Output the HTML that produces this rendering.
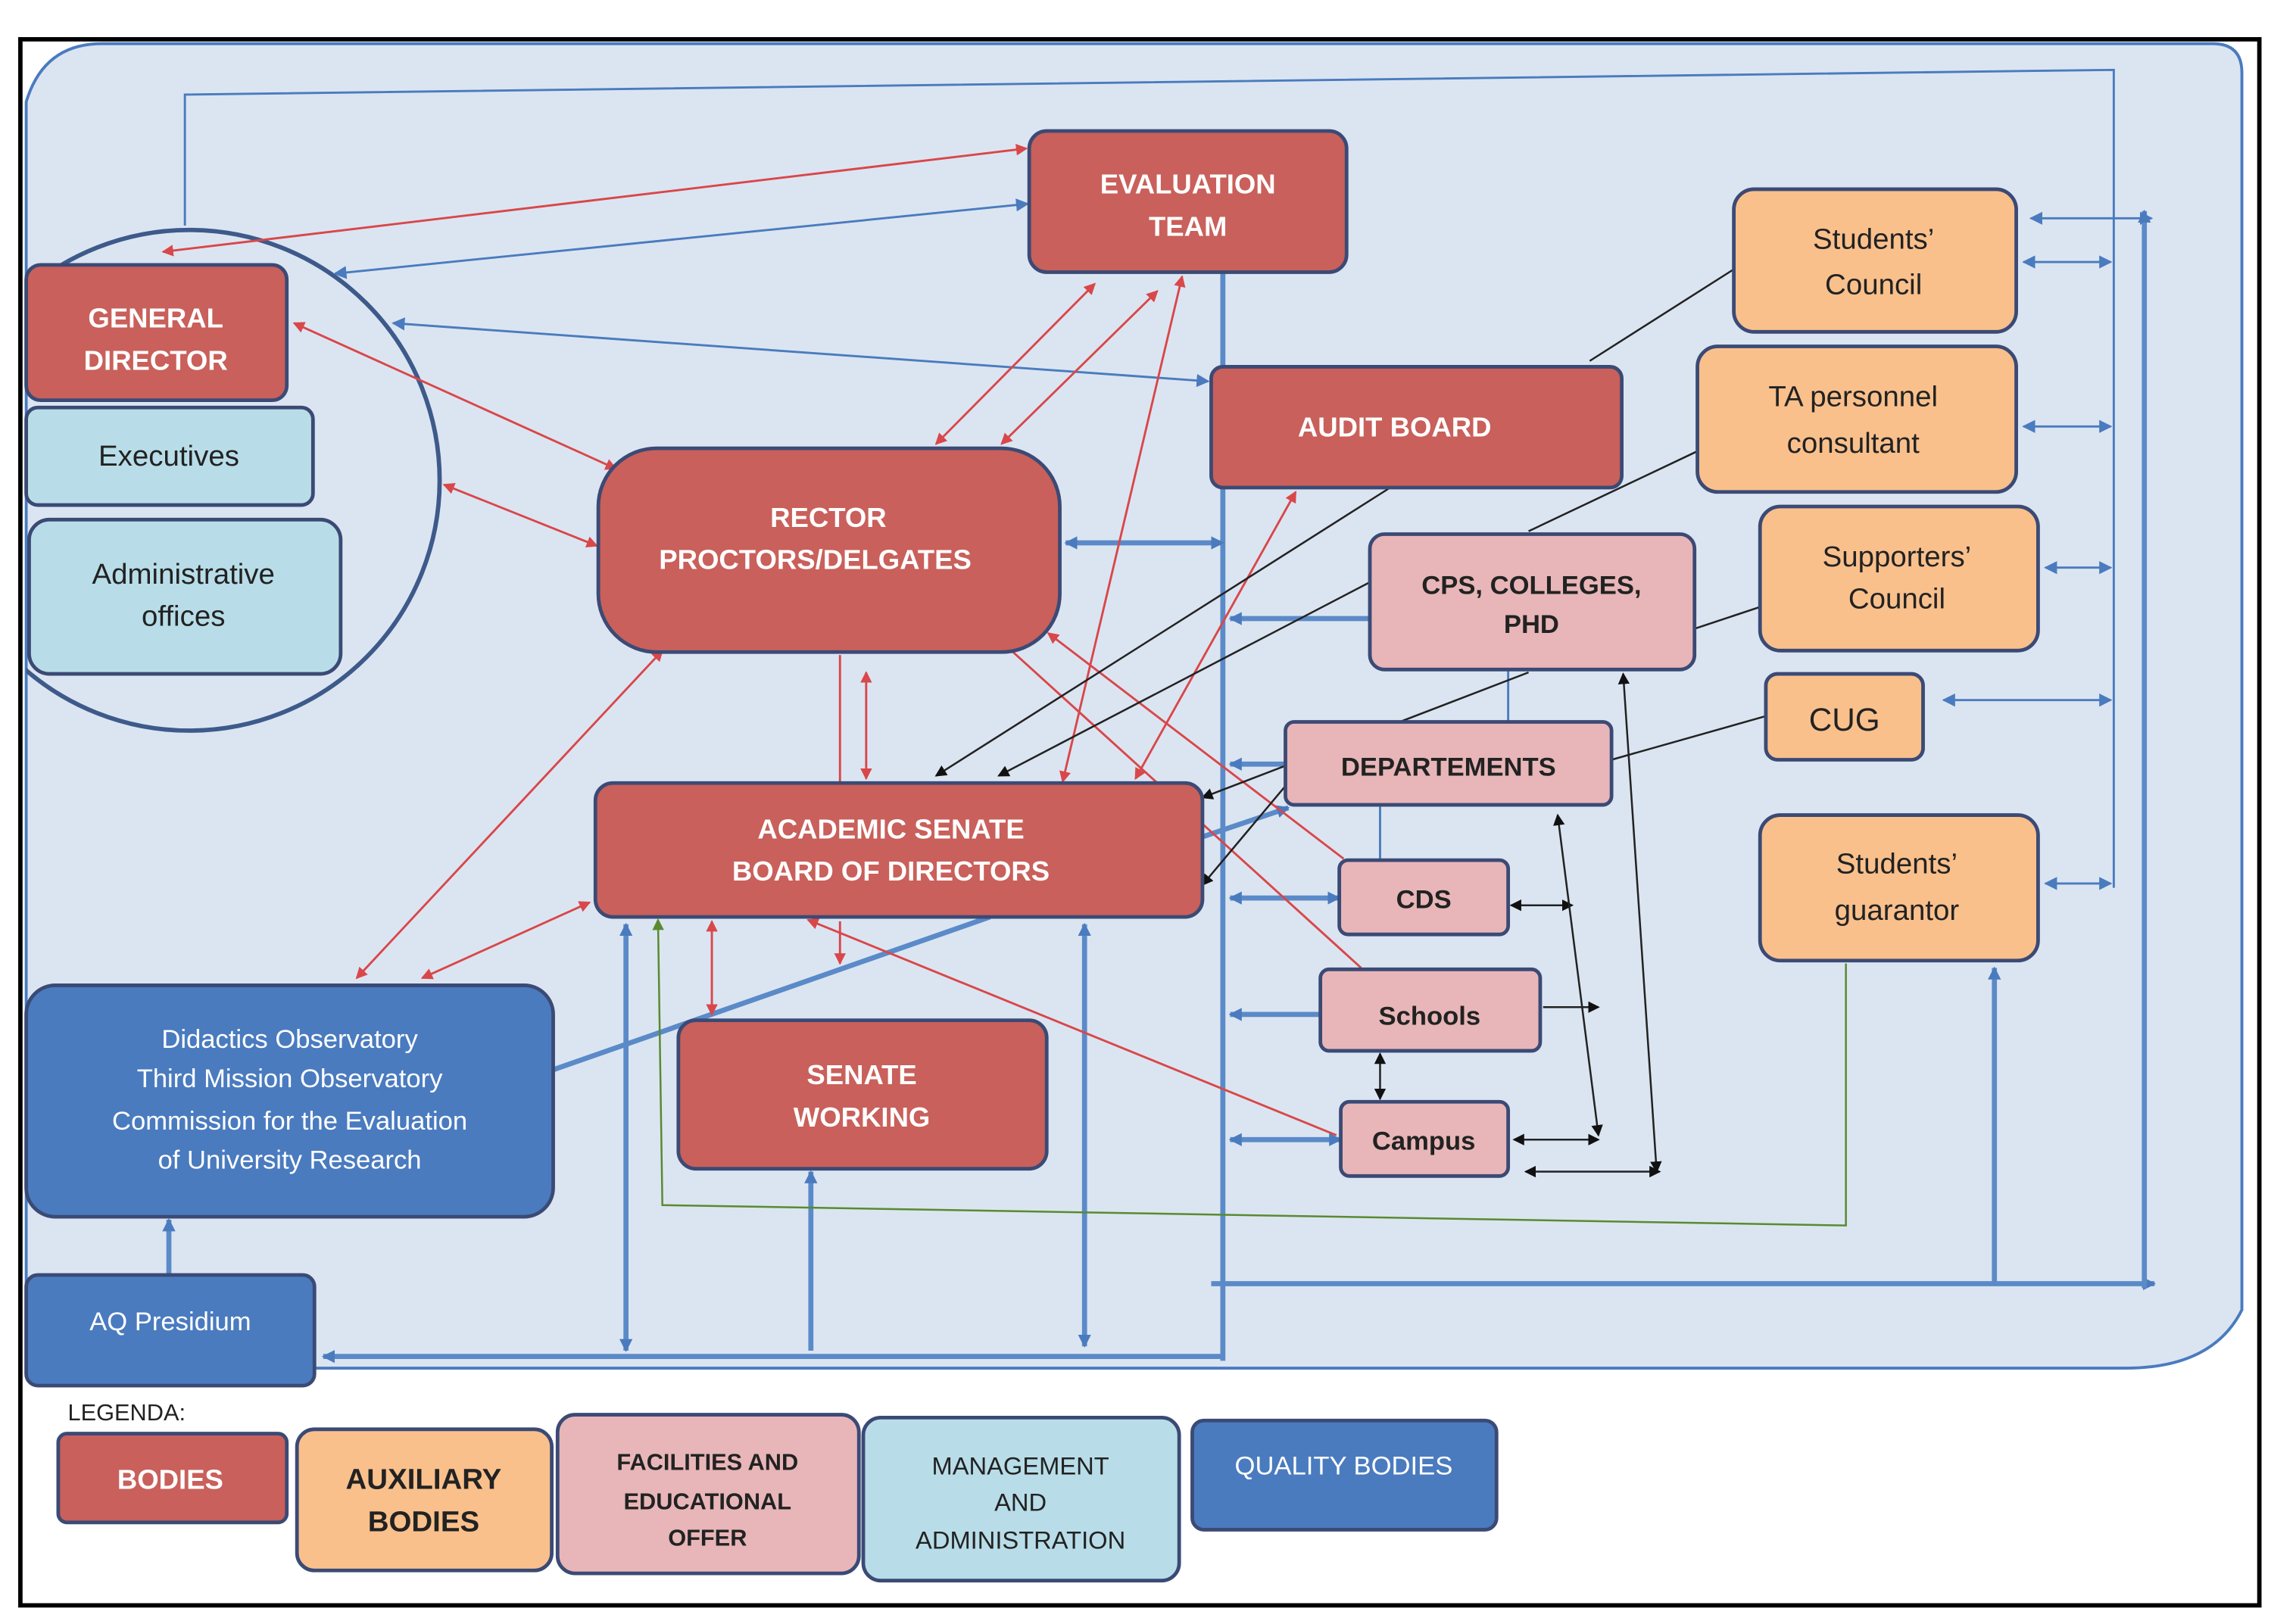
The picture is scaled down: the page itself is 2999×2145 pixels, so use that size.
<!DOCTYPE html>
<html><head><meta charset="utf-8"><style>
html,body{margin:0;padding:0;background:#fff}
svg{display:block}
text{font-family:"Liberation Sans",sans-serif;text-anchor:middle}
</style></head><body>
<svg width="2999" height="2145" viewBox="0 0 1560 1115.8" preserveAspectRatio="none" xmlns="http://www.w3.org/2000/svg">
<defs>
<marker id="ar" markerWidth="8" markerHeight="8" refX="7" refY="4" orient="auto-start-reverse" markerUnits="userSpaceOnUse"><path d="M0,0 L8,4 L0,8 z" fill="#d9474a"/></marker>
<marker id="ab" markerWidth="9" markerHeight="9" refX="8" refY="4.5" orient="auto-start-reverse" markerUnits="userSpaceOnUse"><path d="M0,0 L9,4.5 L0,9 z" fill="#4a7bbf"/></marker>
<marker id="ak" markerWidth="8" markerHeight="8" refX="7" refY="4" orient="auto-start-reverse" markerUnits="userSpaceOnUse"><path d="M0,0 L8,4 L0,8 z" fill="#111"/></marker>
<marker id="ag" markerWidth="8" markerHeight="8" refX="7" refY="4" orient="auto-start-reverse" markerUnits="userSpaceOnUse"><path d="M0,0 L8,4 L0,8 z" fill="#5a8a30"/></marker>
<clipPath id="cc"><rect x="18" y="0" width="1540" height="1116"/></clipPath>
</defs>
<rect x="0" y="0" width="1560" height="1116" fill="#fff"/>
<path d="M18,70 Q30,30 70,30 L1520,30 Q1540,30 1540,50 L1540,900 Q1520,940 1460,940 L18,940 Z" fill="#dbe5f1" stroke="#4a7bbf" stroke-width="2"/>
<rect x="14" y="27" width="1538" height="1076" fill="none" stroke="#000" stroke-width="3"/>
<circle cx="130" cy="330" r="172" fill="none" stroke="#3d5a8a" stroke-width="3" clip-path="url(#cc)"/>

<g stroke="#4a7bbf" stroke-width="1.5" fill="none">
<polyline points="127,155 127,65 1452,48 1452,610"/>
<line x1="230" y1="188" x2="706" y2="140" marker-end="url(#ab)" marker-start="url(#ab)"/>
<line x1="270" y1="222" x2="830" y2="262" marker-end="url(#ab)" marker-start="url(#ab)"/>
<line x1="1395" y1="150" x2="1478" y2="150" marker-start="url(#ab)" marker-end="url(#ab)"/>
<line x1="1390" y1="180" x2="1450" y2="180" marker-start="url(#ab)" marker-end="url(#ab)"/>
<line x1="1390" y1="293" x2="1450" y2="293" marker-start="url(#ab)" marker-end="url(#ab)"/>
<line x1="1405" y1="390" x2="1450" y2="390" marker-start="url(#ab)" marker-end="url(#ab)"/>
<line x1="1335" y1="481" x2="1450" y2="481" marker-start="url(#ab)" marker-end="url(#ab)"/>
<line x1="1405" y1="607" x2="1450" y2="607" marker-start="url(#ab)" marker-end="url(#ab)"/>
<line x1="1036" y1="460" x2="1036" y2="496"/>
<line x1="948" y1="553" x2="948" y2="591"/>
</g>
<g stroke="#5b8ac8" stroke-width="3.5" fill="none">
<line x1="840" y1="188" x2="840" y2="935"/>
<line x1="222" y1="932" x2="840" y2="932" marker-start="url(#ab)"/>
<line x1="832" y1="882" x2="1480" y2="882" marker-end="url(#ab)"/>
<line x1="1473" y1="145" x2="1473" y2="885" marker-start="url(#ab)"/>
<line x1="1370" y1="665" x2="1370" y2="882" marker-start="url(#ab)"/>
<line x1="732" y1="373" x2="840" y2="373" marker-start="url(#ab)" marker-end="url(#ab)"/>
<line x1="845" y1="425" x2="941" y2="425" marker-start="url(#ab)"/>
<line x1="845" y1="525" x2="883" y2="525" marker-start="url(#ab)"/>
<line x1="845" y1="617" x2="920" y2="617" marker-start="url(#ab)" marker-end="url(#ab)"/>
<line x1="845" y1="697" x2="907" y2="697" marker-start="url(#ab)"/>
<line x1="845" y1="783" x2="921" y2="783" marker-start="url(#ab)" marker-end="url(#ab)"/>
<line x1="430" y1="635" x2="430" y2="928" marker-start="url(#ab)" marker-end="url(#ab)"/>
<line x1="557" y1="805" x2="557" y2="928" marker-start="url(#ab)"/>
<line x1="745" y1="635" x2="745" y2="925" marker-start="url(#ab)" marker-end="url(#ab)"/>
<line x1="116" y1="876" x2="116" y2="838" marker-end="url(#ab)"/>
<line x1="380" y1="735" x2="680" y2="630"/>
<line x1="826" y1="575" x2="885" y2="555" marker-end="url(#ab)"/>
</g>
<g stroke="#d9474a" stroke-width="1.5" fill="none">
<line x1="112" y1="173" x2="705" y2="102" marker-start="url(#ar)" marker-end="url(#ar)"/>
<line x1="202" y1="222" x2="423" y2="322" marker-start="url(#ar)" marker-end="url(#ar)"/>
<line x1="305" y1="333" x2="410" y2="375" marker-start="url(#ar)" marker-end="url(#ar)"/>
<line x1="643" y1="305" x2="752" y2="195" marker-start="url(#ar)" marker-end="url(#ar)"/>
<line x1="688" y1="305" x2="795" y2="200" marker-start="url(#ar)" marker-end="url(#ar)"/>
<line x1="730" y1="537" x2="812" y2="190" marker-start="url(#ar)" marker-end="url(#ar)"/>
<line x1="780" y1="535" x2="890" y2="338" marker-start="url(#ar)" marker-end="url(#ar)"/>
<line x1="245" y1="672" x2="455" y2="447" marker-start="url(#ar)" marker-end="url(#ar)"/>
<line x1="290" y1="672" x2="405" y2="620" marker-start="url(#ar)" marker-end="url(#ar)"/>
<line x1="577" y1="450" x2="577" y2="538"/>
<line x1="595" y1="462" x2="595" y2="535" marker-start="url(#ar)" marker-end="url(#ar)"/>
<line x1="489" y1="633" x2="489" y2="697" marker-start="url(#ar)" marker-end="url(#ar)"/>
<line x1="577" y1="633" x2="577" y2="662" marker-end="url(#ar)"/>
<line x1="555" y1="632" x2="918" y2="780" marker-start="url(#ar)"/>
<line x1="665" y1="420" x2="935" y2="665" marker-start="url(#ar)"/>
<line x1="720" y1="435" x2="923" y2="590" marker-start="url(#ar)"/>
</g>
<g stroke="#222" stroke-width="1.3" fill="none">
<line x1="1092" y1="248" x2="1191" y2="185"/>
<line x1="1050" y1="365" x2="1166" y2="310"/>
<line x1="1164" y1="432" x2="1209" y2="417"/>
<line x1="1107" y1="522" x2="1213" y2="492"/>
<line x1="955" y1="335" x2="643" y2="533" marker-end="url(#ak)"/>
<line x1="941" y1="400" x2="686" y2="533" marker-end="url(#ak)"/>
<line x1="1050" y1="462" x2="826" y2="548" marker-end="url(#ak)"/>
<line x1="883" y1="540" x2="826" y2="608" marker-end="url(#ak)"/>
<line x1="1038" y1="622" x2="1080" y2="622" marker-start="url(#ak)" marker-end="url(#ak)"/>
<line x1="1070" y1="560" x2="1098" y2="780" marker-start="url(#ak)" marker-end="url(#ak)"/>
<line x1="1060" y1="692" x2="1098" y2="692" marker-end="url(#ak)"/>
<line x1="948" y1="724" x2="948" y2="755" marker-start="url(#ak)" marker-end="url(#ak)"/>
<line x1="1040" y1="783" x2="1098" y2="783" marker-start="url(#ak)" marker-end="url(#ak)"/>
<line x1="1115" y1="463" x2="1138" y2="805" marker-start="url(#ak)" marker-end="url(#ak)"/>
<line x1="1048" y1="805" x2="1140" y2="805" marker-start="url(#ak)" marker-end="url(#ak)"/>
</g>
<g stroke="#5a8a30" stroke-width="1.3" fill="none">
<polyline points="452,632 455,828 1268,842 1268,662" marker-start="url(#ag)"/>
</g>

<g stroke="#3b4a75" stroke-width="2.5">
<rect x="707" y="90" width="218" height="97" rx="12" fill="#c9605b"/>
<rect x="18" y="182" width="179" height="93" rx="10" fill="#c9605b"/>
<rect x="18" y="280" width="197" height="67" rx="8" fill="#b8dde8"/>
<rect x="20" y="357" width="214" height="106" rx="14" fill="#b8dde8"/>
<rect x="411" y="308" width="317" height="140" rx="40" fill="#c9605b"/>
<rect x="832" y="252" width="282" height="83" rx="8" fill="#c9605b"/>
<rect x="409" y="538" width="417" height="92" rx="12" fill="#c9605b"/>
<rect x="466" y="701" width="253" height="102" rx="12" fill="#c9605b"/>
<rect x="18" y="677" width="362" height="159" rx="20" fill="#4a7bbf"/>
<rect x="18" y="876" width="198" height="76" rx="8" fill="#4a7bbf"/>
<rect x="941" y="367" width="223" height="93" rx="10" fill="#e8b6b8"/>
<rect x="883" y="496" width="224" height="57" rx="6" fill="#e8b6b8"/>
<rect x="920" y="591" width="116" height="51" rx="6" fill="#e8b6b8"/>
<rect x="907" y="666" width="151" height="56" rx="6" fill="#e8b6b8"/>
<rect x="921" y="757" width="115" height="51" rx="6" fill="#e8b6b8"/>
<rect x="1191" y="130" width="194" height="98" rx="14" fill="#f9c08c"/>
<rect x="1166" y="238" width="219" height="100" rx="14" fill="#f9c08c"/>
<rect x="1209" y="348" width="191" height="99" rx="14" fill="#f9c08c"/>
<rect x="1213" y="463" width="108" height="59" rx="8" fill="#f9c08c"/>
<rect x="1209" y="560" width="191" height="100" rx="14" fill="#f9c08c"/>
<rect x="40" y="985" width="157" height="61" rx="6" fill="#c9605b"/>
<rect x="204" y="982" width="175" height="97" rx="12" fill="#f9c08c"/>
<rect x="383" y="972" width="207" height="109" rx="12" fill="#e8b6b8"/>
<rect x="593" y="974" width="217" height="112" rx="12" fill="#b8dde8"/>
<rect x="819" y="976" width="209" height="75" rx="8" fill="#4a7bbf"/>
</g>

<g font-size="19" fill="#fff" font-weight="bold">
<text x="816" y="133">EVALUATION</text><text x="816" y="162">TEAM</text>
<text x="107" y="225">GENERAL</text><text x="107" y="254">DIRECTOR</text>
<text x="569" y="362">RECTOR</text><text x="560" y="391">PROCTORS/DELGATES</text>
<text x="958" y="300">AUDIT BOARD</text>
<text x="612" y="576">ACADEMIC SENATE</text><text x="612" y="605">BOARD OF DIRECTORS</text>
<text x="592" y="745">SENATE</text><text x="592" y="774">WORKING</text>
<text x="117" y="1023">BODIES</text>
</g>
<g font-size="18" fill="#fff">
<text x="199" y="720">Didactics Observatory</text>
<text x="199" y="747">Third Mission Observatory</text>
<text x="199" y="776">Commission for the Evaluation</text>
<text x="199" y="803">of University Research</text>
<text x="117" y="914">AQ Presidium</text>
<text x="923" y="1013">QUALITY BODIES</text>
</g>
<g font-size="20" fill="#222">
<text x="116" y="320">Executives</text>
<text x="126" y="401">Administrative</text><text x="126" y="430">offices</text>
<text x="1287" y="171">Students’</text><text x="1287" y="202">Council</text>
<text x="1273" y="279">TA personnel</text><text x="1273" y="311">consultant</text>
<text x="1303" y="389">Supporters’</text><text x="1303" y="418">Council</text>
<text x="1267" y="502" font-size="22">CUG</text>
<text x="1303" y="600">Students’</text><text x="1303" y="632">guarantor</text>
</g>
<g font-size="18" fill="#222" font-weight="bold">
<text x="1052" y="408">CPS, COLLEGES,</text><text x="1052" y="435">PHD</text>
<text x="995" y="533">DEPARTEMENTS</text>
<text x="978" y="624">CDS</text>
<text x="982" y="704">Schools</text>
<text x="978" y="790">Campus</text>
<text x="291" y="1023" font-size="20">AUXILIARY</text><text x="291" y="1052" font-size="20">BODIES</text>
<text x="486" y="1010" font-size="16">FACILITIES AND</text><text x="486" y="1037" font-size="16">EDUCATIONAL</text><text x="486" y="1062" font-size="16">OFFER</text>
</g>
<g font-size="17" fill="#222">
<text x="701" y="1013">MANAGEMENT</text><text x="701" y="1038">AND</text><text x="701" y="1064">ADMINISTRATION</text>
<text x="87" y="976" font-size="16">LEGENDA:</text>
</g>
</svg>
</body></html>
